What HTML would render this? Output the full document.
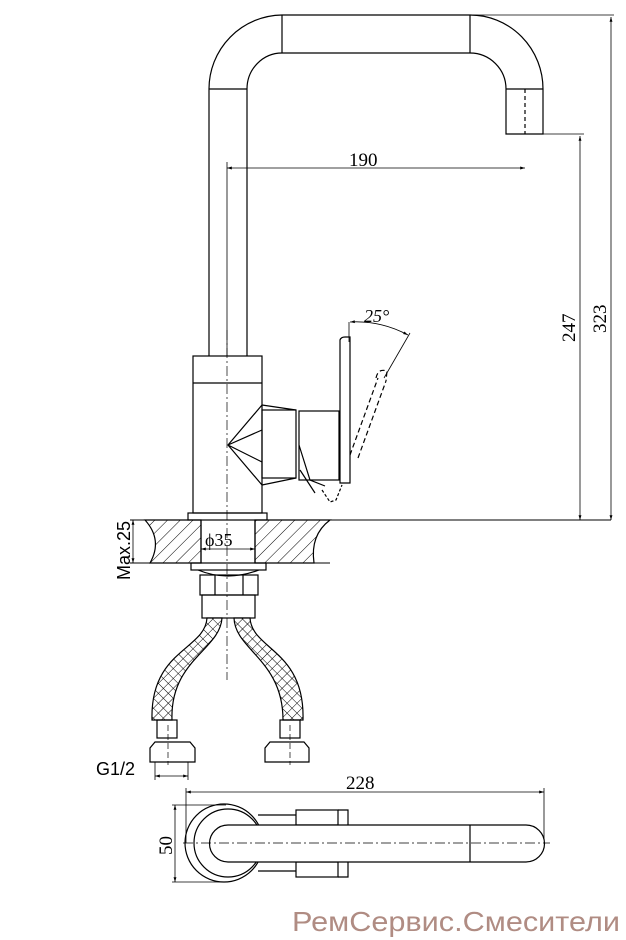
<!DOCTYPE html>
<html><head><meta charset="utf-8"><style>
html,body{margin:0;padding:0;background:#fff;}
svg{display:block;}
</style></head><body>
<svg width="626" height="940" viewBox="0 0 626 940" xmlns="http://www.w3.org/2000/svg">
<defs>
<pattern id="h" width="9" height="9" patternUnits="userSpaceOnUse" patternTransform="rotate(45)">
<line x1="0" y1="0" x2="0" y2="9" stroke="#000" stroke-width="1"/>
</pattern>
<pattern id="m" width="7" height="7" patternUnits="userSpaceOnUse" patternTransform="rotate(45)">
<rect width="7" height="7" fill="#fff"/>
<line x1="0" y1="0" x2="0" y2="7" stroke="#000" stroke-width="1"/>
<line x1="0" y1="0" x2="7" y2="0" stroke="#000" stroke-width="1"/>
</pattern>
<marker id="a" viewBox="0 0 10 10" refX="10" refY="5" markerWidth="8" markerHeight="6" orient="auto-start-reverse">
<path d="M0,2 L10,5 L0,8 z" fill="#000"/>
</marker>
</defs>
<g fill="none" stroke="#000" stroke-width="1.2">
<path d="M209,356 V89 A74,74 0 0 1 282,15 H470 A73,74 0 0 1 543,89 V134 H506 V89 A36,36 0 0 0 470,53 H282 A35,36 0 0 0 247,89 V356"/>
<line x1="209" y1="89" x2="247" y2="89"/>
<line x1="282" y1="15" x2="282" y2="53"/>
<line x1="470" y1="15" x2="470" y2="53"/>
<line x1="506" y1="89" x2="543" y2="89"/>
<line x1="525" y1="89" x2="525" y2="134" stroke-dasharray="4,3"/>
<line x1="470" y1="15" x2="614" y2="15" stroke-width="0.8"/>
<line x1="543" y1="134" x2="584" y2="134" stroke-width="0.8"/>
<line x1="611" y1="520" x2="611" y2="17" stroke-width="0.8" marker-start="url(#a)" marker-end="url(#a)"/>
<line x1="580" y1="520" x2="580" y2="136" stroke-width="0.8" marker-start="url(#a)" marker-end="url(#a)"/>
<line x1="227" y1="168" x2="525" y2="168" stroke-width="0.8" marker-start="url(#a)" marker-end="url(#a)"/>
<line x1="227" y1="162" x2="227" y2="356" stroke-width="0.8"/>
<rect x="193" y="356" width="69" height="157"/>
<line x1="193" y1="383" x2="262" y2="383"/>
<rect x="188" y="513" width="79" height="7"/>
<path d="M262,405 L228,445 L262,485 M262,405 L296,410 M262,485 L296,478 M228,445 L262,430 M228,445 L262,462"/>
<rect x="262" y="410" width="34" height="68"/>
<rect x="299" y="411" width="40" height="69"/>
<path d="M340,340 Q341,337 345,337 H350 V483 H340 Z"/>
<path d="M299,445 L310,480 L325,486 M300,470 L315,493"/>
<path d="M350,455 L378,378 M358,458 L386,381 M376,378 Q378,368 387,371 L386,381" stroke-dasharray="5,3"/>
<path d="M322,490 L330,502 L336,500 L342,485" stroke-dasharray="3,2"/>
<line x1="349" y1="322" x2="349" y2="342" stroke-width="0.8"/>
<line x1="384" y1="378" x2="410" y2="333" stroke-width="0.8"/>
<path d="M350,322 A110,110 0 0 1 408,335" stroke-width="0.8" marker-start="url(#a)" marker-end="url(#a)"/>
<line x1="130" y1="520" x2="611" y2="520" stroke-width="0.9"/>
<line x1="130" y1="563" x2="330" y2="563" stroke-width="0.9"/>
<path d="M145,520 Q163,540 150,563 H201 V520 Z" fill="url(#h)"/>
<path d="M255,520 H330 Q310,535 314,563 H255 Z" fill="url(#h)"/>
<line x1="201" y1="520" x2="201" y2="563"/>
<line x1="255" y1="520" x2="255" y2="563"/>
<line x1="201" y1="549" x2="255" y2="549" stroke-width="0.8" marker-start="url(#a)" marker-end="url(#a)"/>
<line x1="133" y1="520" x2="133" y2="563" stroke-width="0.8" marker-start="url(#a)" marker-end="url(#a)"/>
<rect x="191" y="563" width="75" height="7"/>
<path d="M198,570 Q227,582 259,570"/>
<rect x="200" y="575" width="58" height="20"/>
<line x1="215" y1="575" x2="215" y2="595"/>
<line x1="243" y1="575" x2="243" y2="595"/>
<rect x="202" y="595" width="53" height="23"/>
<path d="M207,618 L222,618 C220,650 170,660 172,720 L152,720 C150,650 205,650 207,618 Z" fill="url(#m)"/>
<path d="M234,618 L250,618 C252,650 305,650 303,720 L283,720 C283,660 235,650 234,618 Z" fill="url(#m)"/>
<rect x="157" y="720" width="20" height="18"/>
<rect x="280" y="720" width="20" height="18"/>
<path d="M150,762 V748 L155,742 H190 L195,748 V762 Z"/>
<path d="M265,762 V748 L270,742 H304 L309,748 V762 Z"/>
<line x1="155" y1="762" x2="155" y2="780" stroke-width="0.8"/>
<line x1="188" y1="762" x2="188" y2="780" stroke-width="0.8"/>
<line x1="155" y1="776" x2="188" y2="776" stroke-width="0.8" marker-start="url(#a)" marker-end="url(#a)"/>
<line x1="227" y1="330" x2="227" y2="680" stroke-width="0.7" stroke-dasharray="10,3,2,3"/>
<line x1="168" y1="725" x2="168" y2="765" stroke-width="0.7" stroke-dasharray="6,3"/>
<line x1="290" y1="725" x2="290" y2="765" stroke-width="0.7" stroke-dasharray="6,3"/>
<line x1="186" y1="792" x2="544" y2="792" stroke-width="0.8" marker-start="url(#a)" marker-end="url(#a)"/>
<line x1="186" y1="788" x2="186" y2="843" stroke-width="0.8"/>
<line x1="544" y1="788" x2="544" y2="843" stroke-width="0.8"/>
<line x1="175" y1="805" x2="175" y2="882" stroke-width="0.8" marker-start="url(#a)" marker-end="url(#a)"/>
<line x1="172" y1="805" x2="226" y2="805" stroke-width="0.8"/>
<line x1="172" y1="882" x2="226" y2="882" stroke-width="0.8"/>
<circle cx="224" cy="843" r="39"/>
<circle cx="228" cy="843" r="34"/>
<path d="M258,815 H296 M258,871 H296"/>
<rect x="296" y="810" width="42" height="15"/>
<rect x="296" y="862" width="42" height="15"/>
<path d="M338,810 H348 V825 M338,877 H348 V862"/>
<path d="M228,825 H526 A18,18 0 0 1 526,862 H228 A18,18 0 0 1 228,825 Z" fill="#fff"/>
<line x1="470" y1="825" x2="470" y2="862"/>
<line x1="183" y1="843" x2="550" y2="843" stroke-width="0.7" stroke-dasharray="10,3,2,3"/>
</g>
<g font-size="19" fill="#000" style="font-family:'Liberation Serif',serif">
<text x="349" y="166">190</text>
<text x="364" y="322" font-style="italic" font-size="18">25°</text>
<text x="205" y="546" font-size="18">ϕ35</text>
<text x="346" y="789">228</text>
<text transform="translate(575,342) rotate(-90)">247</text>
<text transform="translate(606,333) rotate(-90)">323</text>
<text transform="translate(172,855) rotate(-90)">50</text>
</g>
<g fill="#000" font-size="18" style="font-family:'Liberation Sans',sans-serif">
<text transform="translate(130,580) rotate(-90)">Max.25</text>
<text x="96" y="775">G1/2</text>
</g>
<text x="292" y="931" style="font-family:'Liberation Sans',sans-serif" font-size="28" textLength="328" lengthAdjust="spacingAndGlyphs" fill="#b08c83">РемСервис.Смесители</text>
</svg>
</body></html>
